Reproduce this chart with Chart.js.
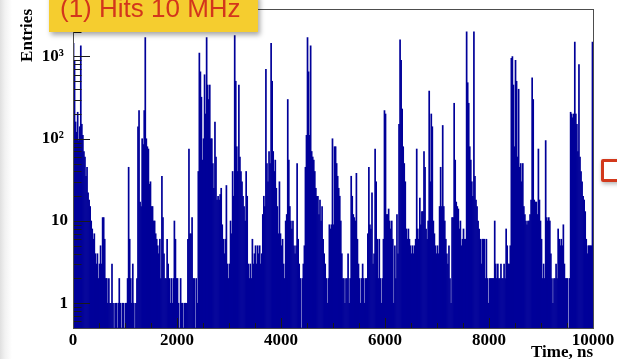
<!DOCTYPE html>
<html lang="en">
  <head>
    <meta charset="UTF-8" />
    <title>(1) Hits 10 MHz</title>
    <style>
      body {
        margin: 0;
        background: #fff;
      }
      #wrap {
        position: relative;
        width: 617px;
        height: 359px;
        overflow: hidden;
      }
      #edge {
        position: absolute;
        left: 0;
        top: 0;
        width: 12px;
        height: 359px;
        background: linear-gradient(to right, #e0e0e0, #f2f2f2 5px, rgba(255, 255, 255, 0) 12px);
      }
      #hist {
        position: absolute;
        left: 0;
        top: 0;
      }
      #label {
        position: absolute;
        left: 49px;
        top: -6px;
        width: 209px;
        height: 37.5px;
        background: #f5cd2f;
        box-shadow: 2px 3px 5px rgba(0, 0, 0, 0.35);
      }
      #label span {
        position: absolute;
        left: 11px;
        top: 0.7px;
        font: 26px "Liberation Sans", Arial, sans-serif;
        line-height: 26px;
        color: #d3361c;
        white-space: nowrap;
      }
      #marker {
        position: absolute;
        left: 601px;
        top: 159px;
        width: 30px;
        height: 17px;
        border: 3px solid #d2391c;
        border-radius: 2px;
        box-shadow: 1px 2px 4px rgba(0, 0, 0, 0.3);
      }
    </style>
  </head>
  <body>
    <div id="wrap">
      <div id="edge"></div>
      <canvas id="hist" width="617" height="359"></canvas>
      <div id="label"><span>(1) Hits 10 MHz</span></div>
      <div id="marker"></div>
    </div>

    <script src="https://cdn.jsdelivr.net/npm/chart.js"></script>

    <script>
      // hit time histogram, 20 ns bins
      const binWidth = 20;

      // 0 - 2000 ns
      const counts0 = [
        1450, 900, 160, 120, 210, 95, 140, 1350, 150, 110,
        70, 60, 35, 45, 22, 18, 15, 10, 8, 6,
        7, 4, 3, 4, 2, 3, 5, 3, 11, 11,
        6, 2, 2, 1, 2, 1, 1, 3, 1, 0,
        1, 1, 0, 1, 2, 1, 0, 1, 1, 0,
        1, 1, 2, 45, 6, 2, 1, 3, 1, 0,
        1, 2, 140, 220, 17, 15, 100, 85, 220, 1700,
        100, 80, 75, 28, 30, 15, 15, 10, 10, 7,
        6, 5, 4, 6, 2, 35, 11, 4, 2, 2,
        6, 3, 2, 1, 2, 1, 2, 10, 6, 2,
      ];
      // 2000 - 4000 ns
      const counts1 = [
        2, 1, 0, 2, 1, 1, 0, 1, 1, 1,
        6, 75, 7, 7, 11, 2, 2, 0, 2, 1,
        40, 1100, 650, 320, 55, 100, 600, 200, 1700, 450,
        300, 450, 100, 100, 50, 25, 160, 60, 18, 20,
        18, 21, 25, 9, 6, 4, 6, 27, 3, 2,
        3, 10, 7, 40, 20, 1800, 500, 80, 40, 450,
        60, 40, 30, 20, 15, 10, 40, 20, 3, 2,
        3, 2, 6, 3, 4, 5, 3, 5, 4, 5,
        3, 4, 12, 20, 15, 700, 50, 30, 70, 50,
        1450, 500, 70, 40, 55, 25, 15, 7, 30, 7,
      ];
      // 4000 - 6000 ns
      const counts2 = [
        5, 6, 3, 2, 10, 12, 300, 55, 15, 10,
        8, 10, 5, 4, 5, 50, 6, 3, 2, 0,
        2, 3, 5, 45, 110, 1700, 650, 110, 1350, 70,
        60, 55, 40, 25, 20, 20, 12, 18, 10, 15,
        6, 4, 3, 2, 1, 2, 9, 8, 9, 100,
        9, 80, 80, 50, 35, 25, 20, 10, 4, 2,
        2, 1, 2, 2, 4, 1, 2, 35, 20, 12,
        11, 10, 38, 6, 3, 2, 1, 2, 3, 2,
        1, 2, 2, 7, 45, 9, 8, 22, 3, 4,
        75, 30, 6, 2, 6, 2, 1, 2, 6, 220,
      ];
      // 6000 - 8000 ns
      const counts3 = [
        200, 12, 12, 14, 10, 8, 10, 6, 1, 5,
        2, 12, 4, 150, 1600, 900, 230, 80, 50, 30,
        8, 6, 8, 6, 5, 4, 5, 4, 5, 6,
        75, 8, 6, 19, 9, 13, 13, 70, 45, 8,
        6, 10, 380, 30, 200, 140, 10, 7, 5, 4,
        5, 4, 15, 45, 15, 145, 15, 10, 6, 4,
        3, 5, 2, 1, 11, 11, 270, 55, 17, 15,
        14, 8, 10, 5, 6, 8, 6, 6, 2000, 480,
        270, 80, 55, 30, 20, 2000, 35, 18, 15, 10,
        8, 6, 3, 6, 6, 6, 2, 6, 2, 1,
      ];
      // 8000 - 10000 ns
      const counts4 = [
        2, 2, 2, 2, 2, 10, 3, 2, 3, 2,
        2, 3, 2, 2, 3, 2, 8, 5, 3, 3,
        5, 950, 1000, 450, 80, 900, 500, 60, 400, 45,
        50, 30, 50, 15, 12, 10, 9, 10, 10, 12,
        18, 550, 300, 18, 17, 17, 12, 75, 18, 10,
        6, 2, 3, 2, 95, 11, 10, 11, 10, 4,
        2, 1, 2, 2, 3, 2, 8, 6, 5, 6,
        5, 9, 3, 2, 2, 2, 0, 2, 210, 200,
        180, 200, 1500, 200, 150, 70, 800, 60, 40, 30,
        20, 18, 13, 6, 4, 5, 5, 5, 5, 1500,
      ];

      const xTicks = [0, 2000, 4000, 6000, 8000, 10000];
      const yTicks = [1, 10, 100, 1000];
      const yTickLabels = ["1", "10", "10\u00b2\u2005", "10\u00b3\u2005"];

      const counts = [].concat(counts0, counts1, counts2, counts3, counts4);
      const points = counts.map((c, i) => ({ x: i * binWidth + binWidth / 2, y: c }));

      const axisFont = { family: "Liberation Serif", size: 17, weight: "bold" };

      // frame box and inward tick marks, drawn over the bars
      const frameTicks = {
        id: "frameTicks",
        afterDatasetsDraw(chart) {
          const { ctx, chartArea: a, scales } = chart;
          const x = scales.x;
          const y = scales.y;
          ctx.save();
          ctx.lineWidth = 1;
          ctx.strokeStyle = "#1a1a1a";
          ctx.beginPath();
          for (let e = -1; e <= 3; e++) {
            for (let m = 1; m <= 9; m++) {
              const v = m * Math.pow(10, e);
              if (v <= y.min || v >= y.max) continue;
              const py = Math.round(y.getPixelForValue(v)) + 0.5;
              ctx.moveTo(a.left, py);
              ctx.lineTo(a.left + (m === 1 ? 17 : 8.5), py);
            }
          }
          for (let v = 500; v < 10000; v += 500) {
            const px = Math.round(x.getPixelForValue(v)) + 0.5;
            ctx.moveTo(px, a.bottom);
            ctx.lineTo(px, a.bottom - (v % 2000 === 0 ? 10 : 5));
          }
          ctx.stroke();
          ctx.strokeStyle = "#4d4d4d";
          ctx.strokeRect(a.left + 0.5, a.top + 0.5, a.right - a.left, a.bottom - a.top);
          ctx.restore();
        },
      };

      const ctx = document.getElementById("hist").getContext("2d");
      const histChart = new Chart(ctx, {
        type: "bar",
        data: {
          datasets: [
            {
              data: points,
              backgroundColor: "#000099",
              borderWidth: 0,
              barPercentage: 1,
              categoryPercentage: 1,
              grouped: false,
            },
          ],
        },
        options: {
          responsive: false,
          animation: false,
          layout: { padding: { top: 9, right: 24, left: 0, bottom: 0 } },
          plugins: {
            legend: { display: false },
            tooltip: { enabled: false },
          },
          scales: {
            x: {
              type: "linear",
              min: 0,
              max: 10000,
              offset: false,
              grid: { display: false, drawTicks: false },
              border: { display: false },
              ticks: {
                autoSkip: false,
                maxRotation: 0,
                padding: 2,
                color: "#000",
                font: axisFont,
                callback: (v) => String(v),
              },
              title: {
                display: true,
                text: "Time, ns",
                align: "end",
                color: "#000",
                padding: { top: 0, bottom: 0 },
                font: { family: "Liberation Serif", size: 17, weight: "bold", lineHeight: 0.8 },
              },
              afterBuildTicks: (axis) => {
                axis.ticks = xTicks.map((v) => ({ value: v }));
              },
              afterFit: (axis) => {
                axis.height = 31;
                axis.paddingLeft = 0;
                axis.paddingRight = 0;
              },
            },
            y: {
              type: "logarithmic",
              min: 0.5,
              max: 3780,
              beginAtZero: false,
              grid: { display: false, drawTicks: false },
              border: { display: false },
              ticks: {
                autoSkip: false,
                padding: 5,
                color: "#000",
                font: axisFont,
                callback: (v) => yTickLabels[yTicks.indexOf(v)],
              },
              title: {
                display: true,
                text: "Entries",
                align: "end",
                color: "#000",
                padding: { top: 17, bottom: 0 },
                font: { family: "Liberation Serif", size: 17, weight: "bold", lineHeight: 1.2 },
              },
              afterBuildTicks: (axis) => {
                axis.ticks = yTicks.map((v) => ({ value: v }));
              },
              afterFit: (axis) => {
                axis.width = 73;
                axis.paddingTop = 0;
                axis.paddingBottom = 0;
              },
            },
          },
        },
        plugins: [frameTicks],
      });
    </script>
  </body>
</html>
